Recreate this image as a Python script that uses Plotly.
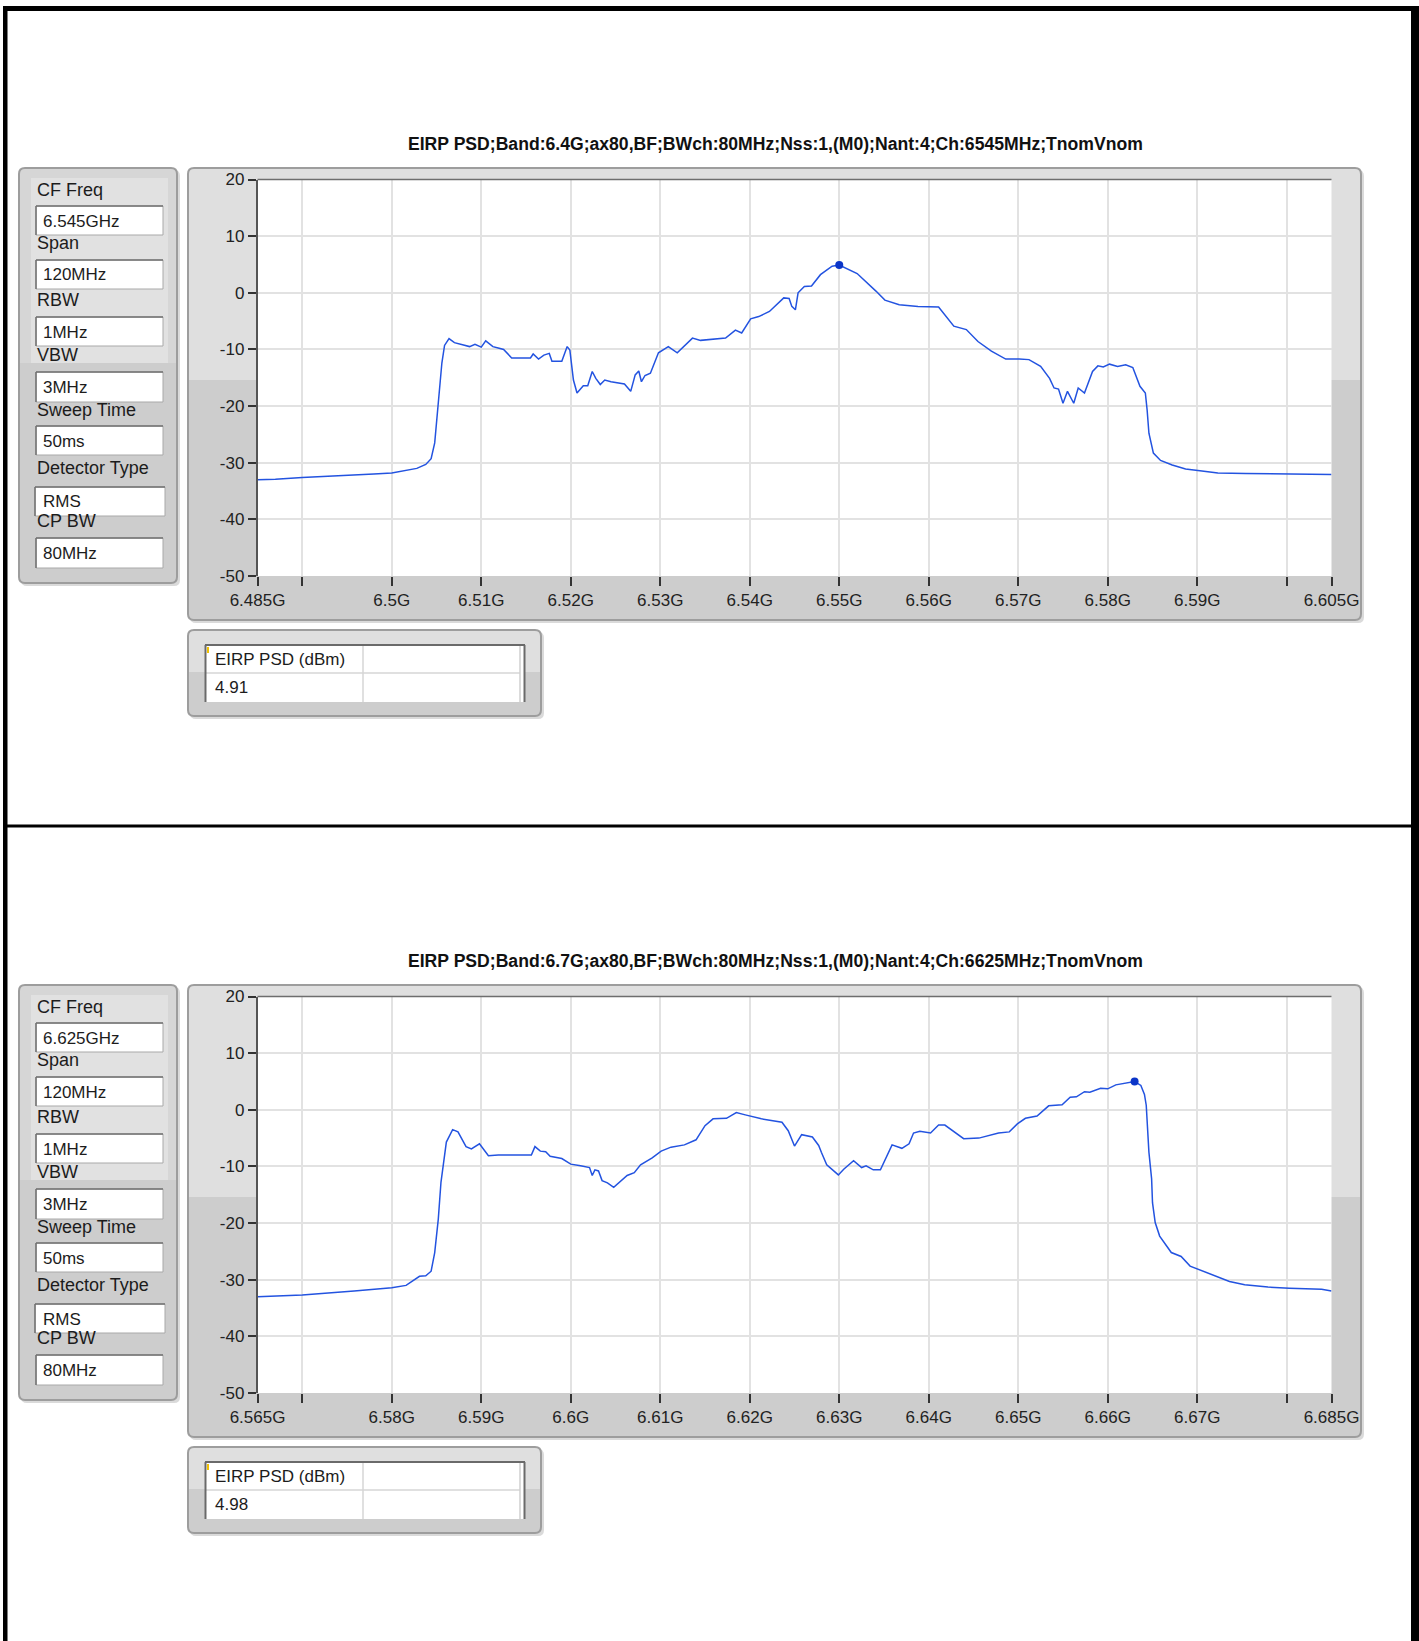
import plotly.graph_objects as go

# ---------------------------------------------------------------- data
TITLES = [
    "EIRP PSD;Band:6.4G;ax80,BF;BWch:80MHz;Nss:1,(M0);Nant:4;Ch:6545MHz;TnomVnom",
    "EIRP PSD;Band:6.7G;ax80,BF;BWch:80MHz;Nss:1,(M0);Nant:4;Ch:6625MHz;TnomVnom",
]

SETTING_NAMES = ["CF Freq", "Span", "RBW", "VBW", "Sweep Time", "Detector Type", "CP BW"]
SETTINGS_TOP = ["6.545GHz", "120MHz", "1MHz", "3MHz", "50ms", "RMS", "80MHz"]
SETTINGS_BOT = ["6.625GHz", "120MHz", "1MHz", "3MHz", "50ms", "RMS", "80MHz"]

RESULT_HEADER = "EIRP PSD (dBm)"
RESULT_TOP = 4.91
RESULT_BOT = 4.98

X_TICKS_TOP = [6.485, 6.49, 6.50, 6.51, 6.52, 6.53, 6.54, 6.55, 6.56, 6.57, 6.58, 6.59, 6.60, 6.605]
X_LABELS_TOP = ["6.485G", "", "6.5G", "6.51G", "6.52G", "6.53G", "6.54G", "6.55G",
                "6.56G", "6.57G", "6.58G", "6.59G", "", "6.605G"]
X_TICKS_BOT = [6.565, 6.57, 6.58, 6.59, 6.60, 6.61, 6.62, 6.63, 6.64, 6.65, 6.66, 6.67, 6.68, 6.685]
X_LABELS_BOT = ["6.565G", "", "6.58G", "6.59G", "6.6G", "6.61G", "6.62G", "6.63G",
                "6.64G", "6.65G", "6.66G", "6.67G", "", "6.685G"]
Y_TICKS = [-50, -40, -30, -20, -10, 0, 10, 20]
Y_LABELS = ["-50", "-40", "-30", "-20", "-10", "0", "10", "20"]

# spectrum trace, channel 6545 MHz (frequency in GHz, level in dBm)
freq_top = [
    6.4850, 6.4870, 6.4900, 6.4930, 6.4960, 6.4980, 6.5000, 6.5015, 6.5028, 6.5038,
    6.5044, 6.5048, 6.5050, 6.5052, 6.5054, 6.5056, 6.5059, 6.5064, 6.5070, 6.5080,
    6.5087, 6.5093, 6.5100, 6.5105, 6.5113, 6.5120, 6.5125, 6.5134, 6.5145, 6.5155,
    6.5158, 6.5164, 6.5170, 6.5176, 6.5179, 6.5190, 6.5196, 6.5199, 6.5203, 6.5207,
    6.5214, 6.5219, 6.5224, 6.5228, 6.5233, 6.5238, 6.5245, 6.5252, 6.5260, 6.5267,
    6.5272, 6.5276, 6.5279, 6.5283, 6.5289, 6.5298, 6.5309, 6.5319, 6.5328, 6.5336,
    6.5345, 6.5360, 6.5373, 6.5384, 6.5391, 6.5401, 6.5410, 6.5422, 6.5438, 6.5444,
    6.5447, 6.5451, 6.5454, 6.5461, 6.5469, 6.5479, 6.5492, 6.5500, 6.5509, 6.5520,
    6.5541, 6.5551, 6.5567, 6.5588, 6.5611, 6.5619, 6.5628, 6.5642, 6.5655, 6.5670,
    6.5686, 6.5701, 6.5712, 6.5725, 6.5735, 6.5740, 6.5745, 6.5750, 6.5755, 6.5762,
    6.5767, 6.5774, 6.5783, 6.5789, 6.5795, 6.5802, 6.5811, 6.5820, 6.5828, 6.5836,
    6.5842, 6.5844, 6.5846, 6.5851, 6.5859, 6.5872, 6.5887, 6.5903, 6.5923, 6.5954,
    6.6001, 6.6050,
]
psd_top = [
    -33.0, -32.9, -32.6, -32.4, -32.1, -32.0, -31.8, -31.3, -31.0, -30.3,
    -29.3, -26.5, -23.0, -19.5, -15.5, -12.4, -9.3, -8.1, -8.8, -9.2,
    -9.5, -9.1, -9.6, -8.5, -9.5, -9.8, -10.0, -11.5, -11.5, -11.5,
    -10.8, -11.7, -11.0, -10.7, -12.1, -12.1, -9.5, -10.1, -15.4, -17.7,
    -16.4, -16.4, -13.9, -15.1, -16.2, -15.4, -15.7, -15.9, -16.1, -17.4,
    -14.5, -13.8, -15.7, -14.6, -14.2, -10.6, -9.5, -10.6, -9.2, -8.0,
    -8.4, -8.2, -8.0, -6.6, -7.1, -4.6, -4.2, -3.3, -0.9, -1.0,
    -2.4, -3.0, 0.0, 1.1, 1.2, 3.2, 4.7, 4.91, 4.2, 3.4,
    0.3, -1.3, -2.1, -2.4, -2.5, -4.2, -5.9, -6.5, -8.6, -10.3,
    -11.7, -11.7, -11.8, -13.0, -15.1, -16.8, -17.0, -19.5, -17.4, -19.5,
    -16.8, -17.7, -13.9, -12.9, -13.1, -12.6, -13.0, -12.7, -13.2, -16.5,
    -17.7, -20.7, -24.8, -28.3, -29.6, -30.4, -31.1, -31.4, -31.8, -31.9,
    -32.0, -32.1,
]

# spectrum trace, channel 6625 MHz
freq_bot = [
    6.5650, 6.5700, 6.5758, 6.5800, 6.5816, 6.5824, 6.5831, 6.5838, 6.5844, 6.5848,
    6.5852, 6.5855, 6.5858, 6.5861, 6.5868, 6.5874, 6.5883, 6.5889, 6.5898, 6.5908,
    6.5919, 6.5956, 6.5960, 6.5966, 6.5972, 6.5977, 6.5990, 6.6000, 6.6011, 6.6021,
    6.6024, 6.6027, 6.6031, 6.6035, 6.6041, 6.6048, 6.6063, 6.6071, 6.6078, 6.6091,
    6.6101, 6.6112, 6.6127, 6.6140, 6.6150, 6.6159, 6.6174, 6.6185, 6.6195, 6.6213,
    6.6236, 6.6243, 6.6250, 6.6258, 6.6270, 6.6277, 6.6280, 6.6286, 6.6299, 6.6305,
    6.6316, 6.6325, 6.6330, 6.6338, 6.6346, 6.6350, 6.6359, 6.6370, 6.6378, 6.6383,
    6.6390, 6.6402, 6.6411, 6.6418, 6.6428, 6.6439, 6.6456, 6.6478, 6.6490, 6.6499,
    6.6508, 6.6521, 6.6534, 6.6549, 6.6558, 6.6565, 6.6574, 6.6580, 6.6592, 6.6600,
    6.6609, 6.6622, 6.6630, 6.6637, 6.6641, 6.6643, 6.6646, 6.6649, 6.6650, 6.6653,
    6.6658, 6.6671, 6.6682, 6.6692, 6.6706, 6.6719, 6.6736, 6.6753, 6.6779, 6.6803,
    6.6839, 6.6850,
]
psd_bot = [
    -33.0, -32.7, -32.0, -31.4, -31.0, -30.2, -29.4, -29.3, -28.5, -25.2,
    -19.3, -12.8, -8.7, -5.7, -3.5, -3.9, -6.5, -6.9, -6.0, -8.1,
    -8.0, -8.0, -6.5, -7.3, -7.4, -8.2, -8.6, -9.6, -9.9, -10.2,
    -11.6, -10.6, -10.8, -12.5, -12.9, -13.7, -11.6, -11.1, -9.7, -8.5,
    -7.3, -6.6, -6.2, -5.3, -2.8, -1.6, -1.5, -0.5, -0.9, -1.6,
    -2.2, -3.7, -6.4, -4.4, -4.8, -6.3, -7.5, -9.7, -11.5, -10.5,
    -9.0, -10.2, -9.9, -10.6, -10.6, -9.3, -6.2, -6.8, -6.0, -4.1,
    -3.8, -4.1, -2.7, -2.7, -3.9, -5.1, -5.0, -4.1, -3.9, -2.5,
    -1.5, -1.1, 0.7, 0.9, 2.2, 2.3, 3.2, 3.1, 3.8, 3.7,
    4.4, 4.8, 4.98, 4.3, 2.7, 0.8, -7.5, -12.2, -16.4, -19.9,
    -22.3, -25.2, -25.9, -27.6, -28.5, -29.2, -30.3, -30.9, -31.3, -31.5,
    -31.7, -32.0,
]

PEAK_F_TOP = 6.5500
PEAK_F_BOT = 6.6630

# ---------------------------------------------------------------- layout helpers
W, H = 1419, 1641
FONT = "Liberation Sans, Arial, sans-serif"
TXT = "#1c1c1c"
LINE_BLUE = "#2353e0"


def X(px):
    return px / W


def Y(py):
    return 1 - py / H


def P(px, py):
    return f"{X(px):.6f},{Y(py):.6f}"


def rrect_path(x0, y0, x1, y1, r, top=True, bottom=True):
    rt = r if top else 0
    rb = r if bottom else 0
    return (f"M{P(x0 + rt, y0)} L{P(x1 - rt, y0)} Q{P(x1, y0)} {P(x1, y0 + rt)} "
            f"L{P(x1, y1 - rb)} Q{P(x1, y1)} {P(x1 - rb, y1)} "
            f"L{P(x0 + rb, y1)} Q{P(x0, y1)} {P(x0, y1 - rb)} "
            f"L{P(x0, y0 + rt)} Q{P(x0, y0)} {P(x0 + rt, y0)} Z")


shapes = []
annotations = []


def add_path(path, fill=None, line=None, lw=0, layer="below"):
    shapes.append(dict(type="path", path=path, xref="paper", yref="paper",
                       fillcolor=fill if fill else "rgba(0,0,0,0)",
                       line=dict(color=line if line else "rgba(0,0,0,0)", width=lw),
                       layer=layer))


def add_rect(x0, y0, x1, y1, fill=None, line=None, lw=0, layer="below"):
    shapes.append(dict(type="rect", xref="paper", yref="paper",
                       x0=X(x0), x1=X(x1), y0=Y(y1), y1=Y(y0),
                       fillcolor=fill if fill else "rgba(0,0,0,0)",
                       line=dict(color=line if line else "rgba(0,0,0,0)", width=lw),
                       layer=layer))


def add_line(x0, y0, x1, y1, color, lw, layer="below"):
    shapes.append(dict(type="line", xref="paper", yref="paper",
                       x0=X(x0), x1=X(x1), y0=Y(y0), y1=Y(y1),
                       line=dict(color=color, width=lw), layer=layer))


def add_text(px, py, text, size=17, anchor="left", bold=False, color=TXT):
    annotations.append(dict(x=X(px), y=Y(py), xref="paper", yref="paper",
                            text=f"<b>{text}</b>" if bold else text,
                            showarrow=False, xanchor=anchor, yanchor="middle",
                            font=dict(family=FONT, size=size, color=color)))


def framed_box(x0, y0, x1, y1, split, light="#dfdfdf", dark="#cdcdcd", r=6):
    # drop shadow, two-tone fill and outline of a panel
    add_path(rrect_path(x0 + 2, y0 + 2, x1 + 3, y1 + 3, r), fill="#dadada")
    add_path(rrect_path(x0, y0, x1, split, r, top=True, bottom=False), fill=light)
    add_path(rrect_path(x0, split, x1, y1, r, top=False, bottom=True), fill=dark)
    add_path(rrect_path(x0, y0, x1, y1, r), line="#9d9d9d", lw=2)


def text_field(x0, y0, x1, y1):
    add_rect(x0, y0, x1, y1, fill="white", line="#a9a9a9", lw=1)
    add_line(x0, y0, x1, y0, "#707070", 1.5)
    add_line(x0, y0, x0, y1, "#707070", 1.5)


# plot-area pixel geometry of the first panel; the second one sits OFF lower
PLOT_L, PLOT_R = 257.5, 1331.5
PLOT_T, PLOT_B = 179.5, 576.0
OFF = 817

panels = [
    dict(title=TITLES[0], values=SETTINGS_TOP, result=RESULT_TOP,
         f=freq_top, p=psd_top, peak=PEAK_F_TOP,
         ticks=X_TICKS_TOP, labels=X_LABELS_TOP),
    dict(title=TITLES[1], values=SETTINGS_BOT, result=RESULT_BOT,
         f=freq_bot, p=psd_bot, peak=PEAK_F_BOT,
         ticks=X_TICKS_BOT, labels=X_LABELS_BOT),
]

fig = go.Figure()
layout_axes = {}

label_y = [190, 243, 300, 355, 410, 468, 521]
field_y = [(206, 235), (260, 289), (317, 346), (372, 402), (426, 455), (487, 516), (538, 568)]

for k, pan in enumerate(panels):
    d = k * OFF
    xa = "x" if k == 0 else f"x{k + 1}"
    ya = "y" if k == 0 else f"y{k + 1}"

    # graph frame
    framed_box(188, 168 + d, 1361, 620 + d, 380 + d)
    add_rect(PLOT_L, PLOT_T + d, PLOT_R, PLOT_B + d, fill="white")
    add_line(PLOT_L, PLOT_T + d, PLOT_R, PLOT_T + d, "#6e6e6e", 1.5, layer="above")

    # settings panel
    framed_box(19, 168 + d, 177, 583 + d, 363 + d, light="#d6d6d6", dark="#cdcdcd")
    add_rect(31, 178 + d, 168, 363 + d, fill="#e1e1e1")
    for i, (name, val) in enumerate(zip(SETTING_NAMES, pan["values"])):
        fy0, fy1 = field_y[i]
        fx0, fx1 = (35, 165) if i == 5 else (36, 163)
        text_field(fx0, fy0 + d, fx1, fy1 + d)
        add_text(34.5, label_y[i] + d, name, size=18)
        add_text(41, (fy0 + fy1) / 2 + d + 0.5, val)

    # result table
    framed_box(188, 630 + d, 541, 716 + d, 672 + d)
    add_rect(205, 645 + d, 525, 702 + d, fill="white")
    add_line(206, 673 + d, 520, 673 + d, "#d6d6d6", 1.5)
    add_line(363, 645 + d, 363, 702 + d, "#d6d6d6", 1.5)
    add_line(520, 645 + d, 520, 702 + d, "#cfcfcf", 1.5)
    add_line(205, 645 + d, 525, 645 + d, "#6a6a6a", 2)
    add_line(205.5, 645 + d, 205.5, 702 + d, "#6a6a6a", 2)
    add_line(524.5, 645 + d, 524.5, 702 + d, "#6a6a6a", 2)
    add_rect(207, 647 + d, 209, 653 + d, fill="#f2c200")
    add_text(213, 659 + d, RESULT_HEADER)
    add_text(213, 687 + d, f"{pan['result']:.2f}")

    # title
    add_text(775, 144 + d, pan["title"], size=17.6, anchor="center", bold=True, color="#111111")

    # spectrum and peak marker
    fig.add_trace(go.Scatter(x=pan["f"], y=pan["p"], mode="lines",
                             line=dict(color=LINE_BLUE, width=1.5),
                             xaxis=xa, yaxis=ya, showlegend=False, hoverinfo="skip"))
    fig.add_trace(go.Scatter(x=[pan["peak"]], y=[pan["result"]], mode="markers",
                             marker=dict(color="#0b35c8", size=8),
                             xaxis=xa, yaxis=ya, showlegend=False, hoverinfo="skip"))

    xkey = "xaxis" if k == 0 else f"xaxis{k + 1}"
    ykey = "yaxis" if k == 0 else f"yaxis{k + 1}"
    layout_axes[xkey] = dict(
        domain=[X(PLOT_L), X(PLOT_R)], anchor=ya,
        range=[pan["ticks"][0], pan["ticks"][-1]],
        tickmode="array", tickvals=pan["ticks"], ticktext=pan["labels"],
        ticks="outside", ticklen=9, tickwidth=1.5, tickcolor="#333333",
        tickfont=dict(family=FONT, size=17, color="#222222"),
        showgrid=True, gridcolor="#e2e2e2", gridwidth=1.5,
        showline=False, zeroline=False, fixedrange=True, automargin=False,
    )
    layout_axes[ykey] = dict(
        domain=[Y(PLOT_B + d), Y(PLOT_T + d)], anchor=xa,
        range=[-50, 20],
        tickmode="array", tickvals=Y_TICKS, ticktext=Y_LABELS,
        ticks="outside", ticklen=8, tickwidth=1.5, tickcolor="#333333",
        tickfont=dict(family=FONT, size=17, color="#222222"),
        showgrid=True, gridcolor="#e2e2e2", gridwidth=1.5,
        showline=True, linecolor="#555555", linewidth=1.5,
        zeroline=False, fixedrange=True, automargin=False,
    )

# page border and divider
add_rect(3, 6, 1419, 11, fill="black", layer="above")
add_rect(3, 6, 7.5, 1641, fill="black", layer="above")
add_rect(1411, 6, 1419, 1641, fill="black", layer="above")
add_rect(3, 824.5, 1419, 827.5, fill="black", layer="above")

fig.update_layout(
    width=W, height=H, autosize=False,
    margin=dict(l=0, r=0, t=0, b=0, pad=0, autoexpand=False),
    paper_bgcolor="white", plot_bgcolor="white",
    shapes=shapes, annotations=annotations,
    showlegend=False,
    **layout_axes,
)

fig.write_html("out.html", config=dict(displayModeBar=False))
